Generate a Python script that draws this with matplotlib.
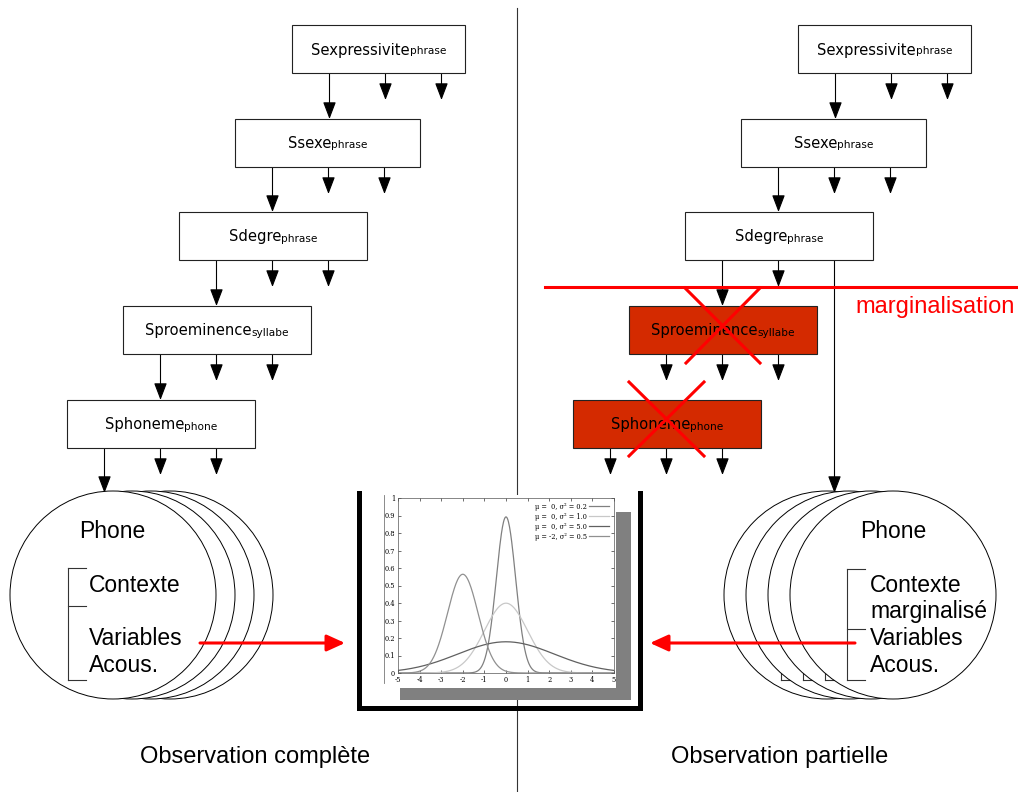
import numpy as np
import matplotlib.pyplot as plt
from matplotlib.patches import Rectangle, Ellipse

plt.rcParams['axes.unicode_minus'] = False

W, H = 1018, 792

# niveaux du modele (texte, indice)
niveaux = ['Sexpressivite', 'Ssexe', 'Sdegre', 'Sproeminence', 'Sphoneme']
indices = ['phrase', 'phrase', 'phrase', 'syllabe', 'phone']

# contenu des cercles
phone_gauche = ['Contexte', 'Variables', 'Acous.']
phone_droite = ['Contexte', 'marginalisé', 'Variables', 'Acous.']
titres = ['Observation complète', 'Observation partielle']

# petites gaussiennes du graphique central
mus = [0, 0, 0, -2]
variances = [0.2, 1.0, 5.0, 0.5]
legende = ['μ =  0, σ² = 0.2', 'μ =  0, σ² = 1.0', 'μ =  0, σ² = 5.0', 'μ = -2, σ² = 0.5']
gris = ['#808080', '#c8c8c8', '#606060', '#909090']

ROUGE = '#ff0000'
BRIQUE = '#d42a00'

fig = plt.figure(figsize=(W / 100, H / 100), dpi=100)
ax = fig.add_axes([0, 0, 1, 1])
ax.set_xlim(0, W)
ax.set_ylim(H, 0)
ax.axis('off')
rend = fig.canvas.get_renderer()


def fleche(x0, y0, x1, y1, couleur='black', lw=0.8, tete='-|>,head_length=1.05,head_width=0.4', z=3):
    ax.annotate('', xy=(x1, y1), xytext=(x0, y0),
                arrowprops=dict(arrowstyle=tete, color=couleur, lw=lw,
                                shrinkA=0, shrinkB=0, mutation_scale=10),
                zorder=z)


def etiquette(cx, base, main, sub, z=5):
    t1 = ax.text(0, base, main, fontsize=10.6, va='baseline', ha='left', zorder=z)
    t2 = ax.text(0, base, sub, fontsize=7.6, va='baseline', ha='left', zorder=z)
    w1 = t1.get_window_extent(rend).width
    w2 = t2.get_window_extent(rend).width
    x0 = cx - (w1 + w2) / 2
    t1.set_x(x0)
    t2.set_x(x0 + w1)


# separation verticale
ax.plot([517, 517], [8, H], color='#333333', lw=0.8, zorder=1)

# boites
lefts = [292, 235, 179, 123, 67]
tops = [25, 119, 212, 306, 400]
widths = [173, 185, 188, 188, 188]
hb = 48
for side, dx in enumerate([0, 506]):
    for k in range(5):
        x, y, w = lefts[k] + dx, tops[k], widths[k]
        rouge = side == 1 and k >= 3
        ax.add_patch(Rectangle((x, y), w, hb, facecolor=BRIQUE if rouge else 'white',
                               edgecolor='#222222', lw=0.8, zorder=4))
        etiquette(x + w / 2, y + hb / 2 + 5.5, niveaux[k], indices[k])
        bas = y + hb
        xs = [x + 37.5 + 56 * i for i in range(3)]
        if side == 0:
            cible = tops[k + 1] if k < 4 else 493
            fleche(xs[0], bas, xs[0], cible)
            for xa in xs[1:]:
                fleche(xa, bas, xa, bas + 27)
        else:
            if k < 2:
                fleche(xs[0], bas, xs[0], tops[k + 1])
                for xa in xs[1:]:
                    fleche(xa, bas, xa, bas + 27)
            elif k == 2:
                fleche(xs[0], bas, xs[0], tops[3])
                fleche(xs[1], bas, xs[1], bas + 27)
                fleche(xs[2], bas, xs[2], 493)
            else:
                for xa in xs:
                    fleche(xa, bas, xa, bas + 27)

# marginalisation
ax.plot([545, W], [287, 287], color=ROUGE, lw=2.2, zorder=6)
ax.text(855, 307, 'marginalisation', color=ROUGE, fontsize=17, va='center',
        ha='left', family='Liberation Sans', zorder=6)
for (xa, ya, xb, yb) in [(685, 288, 760, 363), (760, 288, 686, 363),
                         (629, 382, 704, 456), (704, 382, 629, 456)]:
    ax.plot([xa, xb], [ya, yb], color=ROUGE, lw=2.2, zorder=6)

# cercles (les cercles de derriere ne montrent que le crochet)
R = 103
CY = 595
fs = 16.5


def pile(cx0, decal, lignes, bx, tx, ticks_y, bases):
    for j, d in enumerate(decal):
        z = 10 + j
        cx = cx0 + d
        e = Ellipse((cx, CY), 2 * R, 2 * R + 2, facecolor='white', edgecolor='black', lw=0.7, zorder=z)
        ax.add_patch(e)
        elems = []
        if d == 0:
            ax.text(tx[0], 538, 'Phone', fontsize=fs, family='Liberation Sans',
                    va='baseline', zorder=z + 0.5)
            for lab, b in zip(lignes, bases):
                ax.text(tx[1], b, lab, fontsize=fs, family='Liberation Sans',
                        va='baseline', zorder=z + 0.5)
        l, = ax.plot([bx + d, bx + d], [ticks_y[0], ticks_y[-1]], color='#333333', lw=0.8, zorder=z + 0.5)
        elems.append(l)
        for ty in ticks_y:
            l, = ax.plot([bx + d, bx + d + 18], [ty, ty], color='#333333', lw=0.8, zorder=z + 0.5)
            elems.append(l)
        for el in elems:
            el.set_clip_path(e)


pile(113, [57, 38, 19, 0], phone_gauche, 68, (79, 89), [568, 606, 680], [592, 645, 672])
pile(893, [-66, -44, -22, 0], phone_droite, 847, (860, 870), [569, 629, 680], [592, 618, 645, 672])

# fleches rouges
tete_r = '-|>,head_length=1.1,head_width=0.5'
fleche(200, 643, 345, 643, couleur=ROUGE, lw=2.2, tete=tete_r, z=20)
fleche(855, 643, 650, 643, couleur=ROUGE, lw=2.2, tete=tete_r, z=20)

# cadre du graphique central
ax.add_patch(Rectangle((370, 495), 246, 205, facecolor='white', edgecolor='none', zorder=2))
ax.add_patch(Rectangle((616, 512), 15, 188, facecolor='#808080', edgecolor='none', zorder=3))
ax.add_patch(Rectangle((400, 688), 231, 12, facecolor='#808080', edgecolor='none', zorder=3))
ax.plot([384, 384], [495, 683], color='#777777', lw=0.6, zorder=3)
ax.plot([359, 359, 640, 640], [493, 708, 708, 493], color='black', lw=3.6,
        solid_joinstyle='miter', zorder=4)

# titres
ax.text(255, 757, titres[0], fontsize=17, family='Liberation Sans', ha='center', va='center')
ax.text(780, 757, titres[1], fontsize=17, family='Liberation Sans', ha='center', va='center')

# graphique des gaussiennes
ins = fig.add_axes([398 / W, 1 - 673 / H, 216 / W, 175 / H])
x = np.linspace(-5, 5, 400)
for m, v, c, lab in zip(mus, variances, gris, legende):
    y = np.exp(-(x - m) ** 2 / (2 * v)) / np.sqrt(2 * np.pi * v)
    ins.plot(x, y, color=c, lw=0.9, label=lab)
ins.set_xlim(-5, 5)
ins.set_ylim(0, 1)
ins.set_xticks(range(-5, 6))
ins.set_yticks(np.arange(0, 1.01, 0.1))
ins.set_yticklabels(['0'] + ['%.1f' % v for v in np.arange(0.1, 0.95, 0.1)] + ['1'])
ins.tick_params(direction='in', top=True, right=True, labelsize=4.8, length=2, width=0.4, pad=2)
for lab in ins.get_xticklabels() + ins.get_yticklabels():
    lab.set_family('DejaVu Serif')
for s in ins.spines.values():
    s.set_linewidth(0.5)
    s.set_color('#555555')
leg = ins.legend(loc='upper right', fontsize=4.8, frameon=False, markerfirst=False,
                 handlelength=3, handletextpad=0.4, labelspacing=0.3, borderaxespad=0.3)
for t in leg.get_texts():
    t.set_family('DejaVu Serif')

fig.savefig('out.png', dpi=100)
